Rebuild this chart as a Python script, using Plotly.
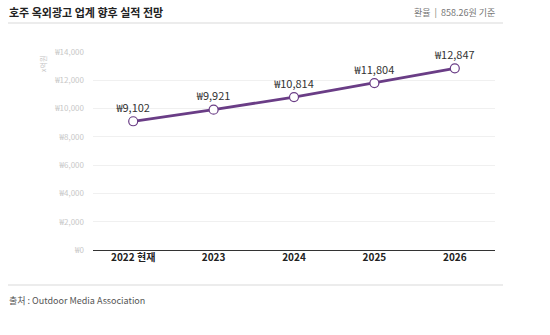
import plotly.graph_objects as go

categories = ["2022 현재", "2023", "2024", "2025", "2026"]
values = [9102, 9921, 10814, 11804, 12847]
ytick_vals = [0, 2000, 4000, 6000, 8000, 10000, 12000, 14000]
ytick_text = ["₩" + f"{v:,}" for v in ytick_vals]
labels = ["₩" + f"{v:,}" for v in values]

FONT = "Noto Sans CJK KR, Noto Sans, sans-serif"
PURPLE = "#6a3d86"

fig = go.Figure()
fig.add_trace(go.Scatter(
    x=list(range(len(categories))), y=values,
    mode="lines+markers+text",
    line=dict(color=PURPLE, width=2.8),
    marker=dict(size=9, color="white", line=dict(color=PURPLE, width=1.2)),
    text=labels, textposition="top center",
    textfont=dict(family=FONT, size=11, color="#333333"),
    cliponaxis=False, hoverinfo="skip",
))

fig.update_layout(
    width=550, height=335,
    margin=dict(l=93, r=55, t=52, b=85),
    paper_bgcolor="white", plot_bgcolor="white",
    showlegend=False,
    font=dict(family=FONT),
    xaxis=dict(
        range=[-0.5, 4.5], tickmode="array",
        tickvals=list(range(len(categories))), ticktext=["<b>" + c + "</b>" for c in categories],
        tickfont=dict(family=FONT, size=10, color="#222222"),
        showgrid=False, zeroline=False, showline=False, ticks="", ticklen=0,
        fixedrange=True,
    ),
    yaxis=dict(
        range=[0, 14000], tickmode="array", tickvals=ytick_vals, ticktext=ytick_text,
        tickfont=dict(family=FONT, size=8, color="#c8c8c8"),
        showgrid=True, gridcolor="#f0f0f0", gridwidth=1,
        zeroline=True, zerolinecolor="#333333", zerolinewidth=1.2,
        showline=False, ticks="", ticklabelstandoff=8,
        fixedrange=True,
    ),
    shapes=[
        dict(type="line", xref="paper", yref="paper", x0=-85/402, x1=1.02, y0=1+29/198, y1=1+29/198,
             line=dict(color="#e6e6e6", width=1.5)),
        dict(type="line", xref="paper", yref="paper", x0=-85/402, x1=1.02, y0=-35/198, y1=-35/198,
             line=dict(color="#e6e6e6", width=1.5)),
    ],
    annotations=[
        dict(text="<b>호주 옥외광고 업계 향후 실적 전망</b>", xref="paper", yref="paper",
             x=-86/402, y=1+40/198, xanchor="left", yanchor="middle", showarrow=False,
             font=dict(family=FONT, size=11, color="#222222")),
        dict(text="환율  |  858.26원 기준", xref="paper", yref="paper",
             x=1+2/402, y=1+40/198, xanchor="right", yanchor="middle", showarrow=False,
             font=dict(family=FONT, size=9, color="#777777")),
        dict(text="출처 : Outdoor Media Association", xref="paper", yref="paper",
             x=-86/402, y=-50/198, xanchor="left", yanchor="middle", showarrow=False,
             font=dict(family=FONT, size=9, color="#555555")),
        dict(text="x억원", xref="paper", yref="paper", textangle=-90,
             x=-50/402, y=(250-64)/198, xanchor="center", yanchor="middle", showarrow=False,
             font=dict(family=FONT, size=7, color="#c4c4c4")),
    ],
)

fig.write_html("out.html")
